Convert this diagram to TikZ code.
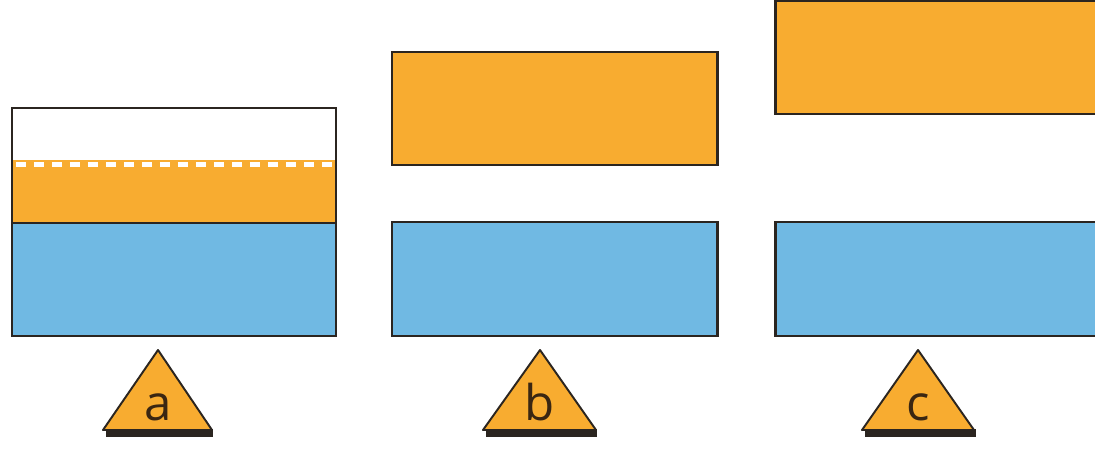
\documentclass[tikz,border=0pt]{standalone}
\usepackage{fontspec}
\setmainfont{Open Sans}
\definecolor{amber}{HTML}{F8AC30}
\definecolor{sky}{HTML}{70B9E3}
\definecolor{edge}{HTML}{2B2520}
\definecolor{ink}{HTML}{3A2612}
\begin{document}
\begin{tikzpicture}[x=0.02cm,y=-0.02cm,line join=miter]
	\tikzset{
		layer/.style={draw=edge,line width=1.7pt},
		tri/.style={fill=amber,draw=edge,line width=1.1pt,line join=round},
		shade/.style={fill=edge},
		lbl/.style={text=ink,font=\fontsize{28}{30}\selectfont,inner sep=0pt}
	}
	\clip (0,0) rectangle (1095,456);
	\fill[white] (0,0) rectangle (1095,456);
	% a: partly filled cell
	\fill[amber] (12,160) rectangle (336,223);
	\draw[white,line width=2.6pt,dash pattern=on 0.2cm off 0.16cm] (16,164.5)--(334,164.5);
	\fill[sky] (12,223) rectangle (336,336);
	\draw[layer] (12,108) rectangle (336,336) (12,223)--(336,223);
	% b
	\draw[layer,fill=amber] (392,52) rectangle (717,165);
	\draw[layer,fill=sky] (392,222) rectangle (717,336);
	% c
	\draw[layer,fill=amber] (775,1) rectangle (1120,114);
	\draw[layer,fill=sky] (775,222) rectangle (1120,336);
	% markers
	\fill[shade] (106,429) rectangle (213,437);
	\draw[tri] (158,350)--(212,430)--(103,430)--cycle;
	\node[lbl] (la) at (158,407) {a};
	\fill[shade] (486,429) rectangle (597,437);
	\draw[tri] (540,350)--(596,430)--(483,430)--cycle;
	\node[lbl] (lb) at (540,402) {b};
	\fill[shade] (865,429) rectangle (976,437);
	\draw[tri] (918,350)--(974,430)--(862,430)--cycle;
	\node[lbl] (lc) at (918,407) {c};
\end{tikzpicture}
\end{document}
